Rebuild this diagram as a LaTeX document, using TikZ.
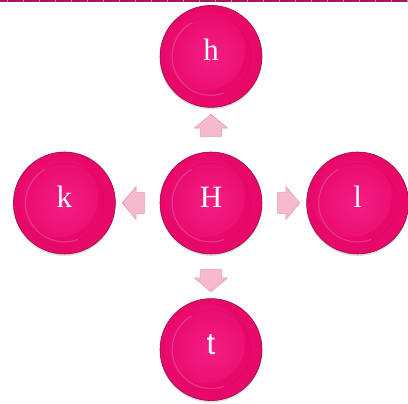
\documentclass[tikz,border=0pt]{standalone}
\usepackage{fontspec}
\setmainfont{Liberation Serif}
\setsansfont{Liberation Sans}
\usetikzlibrary{positioning, shapes.arrows, calc, shadows}

\definecolor{ballpink}{RGB}{232,8,106}
\definecolor{balldark}{RGB}{150,10,70}
\definecolor{balllite}{RGB}{244,30,132}
\definecolor{ballrim}{RGB}{250,120,190}
\definecolor{arrowpink}{RGB}{247,186,204}
\definecolor{arrowedge}{RGB}{226,150,172}
\definecolor{barpink}{RGB}{168,20,92}

\begin{document}
\begin{tikzpicture}[
    x=1pt, y=1pt,
    node distance=44pt and 44pt,
    ball/.style={
        circle,
        minimum size=102pt,
        inner sep=0pt,
        fill=ballpink,
        draw=balldark,
        line width=0.6pt,
        text=white,
        font=\fontsize{31}{34}\selectfont,
        text height=21pt,
        text depth=12pt,
        drop shadow={opacity=0.25, shadow xshift=0pt, shadow yshift=-2pt},
        path picture={
            \shade[inner color=balllite, outer color=ballpink]
                ([xshift=-6pt, yshift=6pt]path picture bounding box.center) circle (40pt);
            \draw[ballrim, line width=1.2pt, opacity=0.45]
                (path picture bounding box.center) ++(120:39pt) arc (120:290:39pt);
            \draw[balldark, line width=0.5pt, opacity=0.25]
                (path picture bounding box.center) circle (39.5pt);
        }
    },
    blockarrow/.style={
        single arrow,
        fill=arrowpink,
        draw=arrowedge,
        line width=0.6pt,
        inner xsep=0pt,
        inner ysep=10pt,
        minimum height=22pt,
        minimum width=33pt,
        single arrow head extend=6pt,
        single arrow tip angle=100
    }
]

    \useasboundingbox (0,0) rectangle (408,404);

    % top border
    \fill[barpink] (0,401.5) rectangle (408,404);
    \foreach \x in {7,23,...,407}
        \fill[barpink!55!white] (\x,401.5) rectangle ++(1,2.5);

    % centre and the four around it
    \node[ball] (H) at (211,201) {H};
    \node[ball, above=of H] (h) {h};
    \node[ball, below=of H] (t) {\sffamily t};
    \node[ball, left=of H] (k) {k};
    \node[ball, right=of H] (l) {l};

    % block arrows
    \node[blockarrow, rotate=90] (toh) at ($(H)!0.5!(h)$) {};
    \node[blockarrow, rotate=270] (tot) at ($(H)!0.5!(t)$) {};
    \node[blockarrow, rotate=180] (tok) at ($(H)!0.5!(k)$) {};
    \node[blockarrow] (tol) at ($(H)!0.5!(l)$) {};

\end{tikzpicture}
\end{document}
